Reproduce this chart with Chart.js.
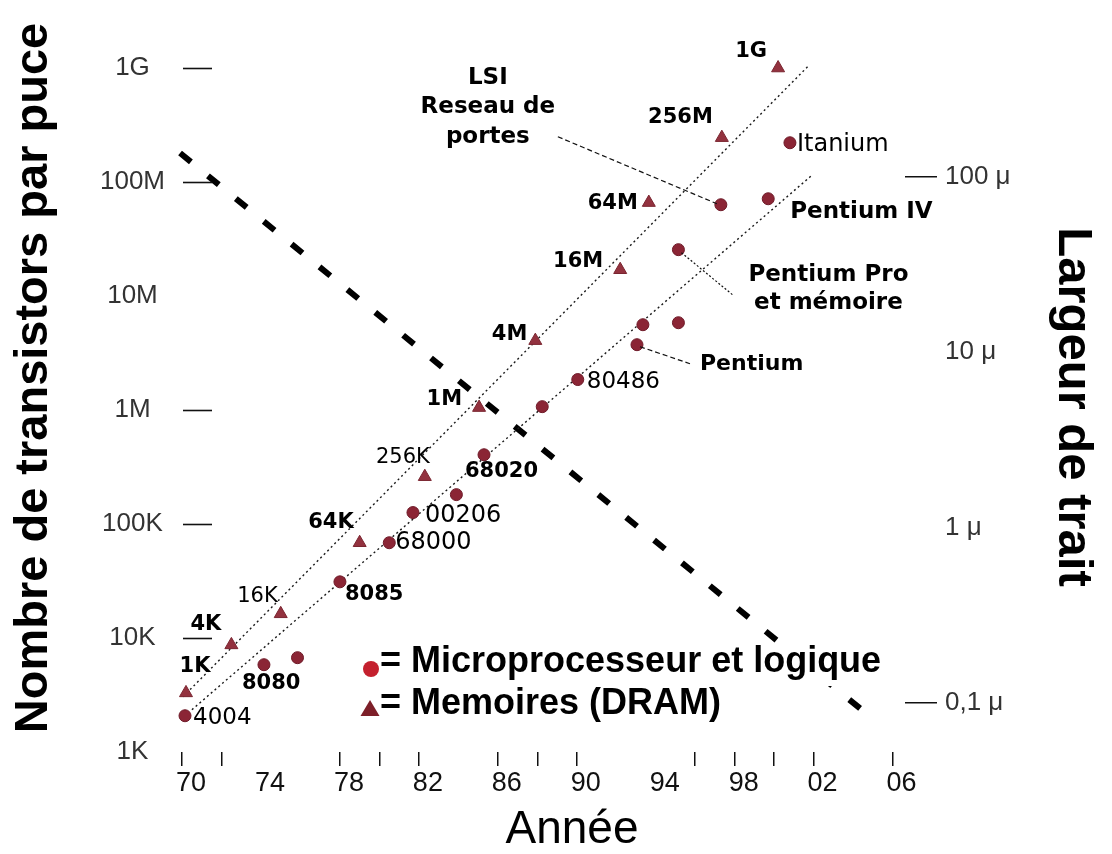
<!DOCTYPE html>
<html>
<head>
<meta charset="utf-8">
<script src="https://cdn.jsdelivr.net/npm/chart.js@4.4.1/dist/chart.umd.min.js"></script>
<style>
  html, body { margin: 0; padding: 0; background: #ffffff; }
  canvas { display: block; }
</style>
</head>
<body>
<canvas id="chart" width="1112" height="854"></canvas>
<script>
// ---------------- DATA ----------------
// Memories (DRAM): year, transistors per chip, label
const dramYears  = [1970.2, 1972.5, 1975.0, 1979.0, 1982.3, 1985.05, 1987.9, 1992.2, 1993.65, 1997.35, 2000.2];
const dramCounts = [3300, 8700, 16300, 68500, 260000, 1050000, 4060000, 17000000, 66000000, 245000000, 1000000000];
const dramLabels = ['1K', '4K', '16K', '64K', '256K', '1M', '4M', '16M', '64M', '256M', '1G'];

// Microprocessors and logic
const cpuYears  = [1970.15, 1974.15, 1975.85, 1978.0, 1980.5, 1981.7, 1983.9, 1985.3, 1988.25, 1990.05, 1993.05, 1993.35, 1995.15, 1995.15, 1997.3, 1999.7, 2000.8];
const cpuCounts = [2080, 5830, 6720, 31100, 68500, 126000, 181000, 405000, 1070000, 1850000, 3740000, 5600000, 5830000, 25500000, 63200000, 71300000, 221000000];
const cpuLabels = ['4004', '8080', '', '8085', '68000', '00206', '', '68020', '', '80486', 'Pentium', '', '', 'Pentium Pro\net mémoire', 'LSI\nReseau de\nportes', 'Pentium IV', 'Itanium'];

// Trend lines (transistors per chip)
const dramTrendYears  = [1970.05, 2001.8];
const dramTrendCounts = [3055, 1070000000];
const cpuTrendYears   = [1970.5, 2001.95];
const cpuTrendCounts  = [2350, 116000000];

// Feature size (line width, microns) - right axis
const featureYears   = [1969.9, 2004.7];
const featureMicrons = [137, 0.0865];

// Axis ticks
const yearTicks      = [1970, 1972, 1974, 1976, 1978, 1980, 1982, 1984, 1986, 1988, 1990, 1992, 1994, 1996, 1998, 2000, 2002, 2004, 2006];
const yearTickLabels = ['70', '', '74', '', '78', '', '82', '', '86', '', '90', '', '94', '', '98', '', '02', '', '06'];
const yearTickMarks  = [1970, 1972, 1978, 1980, 1982, 1986, 1988, 1990, 1996, 1998, 2000, 2002, 2006];

const countTicks      = [1e3, 1e4, 1e5, 1e6, 1e7, 1e8, 1e9];
const countTickLabels = ['1K', '10K', '100K', '1M', '10M', '100M', '1G'];
const countTickDashes = [1e4, 1e5, 1e6, 1e8, 1e9];

const micronTicks      = [0.1, 1, 10, 100];
const micronTickLabels = ['0,1 \u03bc', '1 \u03bc', '10 \u03bc', '100 \u03bc'];
const micronTickDashes = [0.1, 100];

const axisTitles = { x: 'Année', y: 'Nombre de transistors par puce', y2: 'Largeur de trait' };
const legendTexts = ['= Microprocesseur et logique', '= Memoires (DRAM)'];

// ---------------- STYLES ----------------
const SANS = '"Liberation Sans", Arial, Helvetica, sans-serif';
const DEJA = '"DejaVu Sans", "Liberation Sans", sans-serif';
const CPU_COLOR = '#8b2535';
const DRAM_COLOR = '#93323f';

// label placement relative to its point (pixels)
const labelStyle = {
  '1K':   { dx: 9,   dy: -26, align: 'center', bold: true },
  '4K':   { dx: -10, dy: -20, align: 'right', bold: true },
  '16K':  { dx: -3,  dy: -17, align: 'right', bold: false, size: 21 },
  '64K':  { dx: -6,  dy: -20, align: 'right', bold: true },
  '256K': { dx: 5,   dy: -19, align: 'right', bold: false, size: 21 },
  '1M':   { dx: -17, dy: -8,  align: 'right', bold: true },
  '4M':   { dx: -8,  dy: -6,  align: 'right', bold: true },
  '16M':  { dx: -17, dy: -8,  align: 'right', bold: true },
  '64M':  { dx: -11, dy: 1,   align: 'right', bold: true },
  '256M': { dx: -9,  dy: -20, align: 'right', bold: true },
  '1G':   { dx: -11, dy: -16, align: 'right', bold: true },
  '4004':  { dx: 8,   dy: 2,  align: 'left', bold: false },
  '8080':  { dx: -22, dy: 19, align: 'left', bold: true },
  '8085':  { dx: 5,   dy: 13, align: 'left', bold: true },
  '68000': { dx: 6,   dy: 0,  align: 'left', bold: false, size: 24 },
  '00206': { dx: 12,  dy: 3,  align: 'left', bold: false, size: 24 },
  '68020': { dx: -19, dy: 17, align: 'left', bold: true },
  '80486': { dx: 9,   dy: 2,  align: 'left', bold: false },
  'Pentium': { dx: 63, dy: 20, align: 'left', bold: true, size: 22, leader: [3, 2, 53, 19], dash: [5, 3] },
  'Pentium Pro\net mémoire': { dx: 150, dy: 25, align: 'center', bold: true, size: 23, gap: 28, leader: [3, 3, 54, 45], dash: [2, 2] },
  'LSI\nReseau de\nportes': { dx: -233, dy: -127, align: 'center', bold: true, size: 23, gap: 29.5, leader: [-163, -68, -4, -1], dash: [5, 3] },
  'Pentium IV': { dx: 22, dy: 13, align: 'left', bold: true, size: 23 },
  'Itanium': { dx: 7, dy: 2, align: 'left', bold: false, size: 24 }
};

const toXY = (xs, ys) => xs.map((v, i) => ({ x: v, y: ys[i] }));

// ---------------- PLUGIN (annotations, legend, titles) ----------------
const decorPlugin = {
  id: 'decor',
  afterDatasetsDraw(chart) {
    const { ctx, chartArea } = chart;
    const xs = chart.scales.x, ys = chart.scales.y;
    ctx.save();

    // short tick dashes of the left axis (inside the plot)
    ctx.strokeStyle = '#111';
    ctx.lineWidth = 1.6;
    countTickDashes.forEach(v => {
      const py = Math.round(ys.getPixelForValue(v)) + 0.5;
      ctx.beginPath();
      ctx.moveTo(chartArea.left + 13, py);
      ctx.lineTo(chartArea.left + 42, py);
      ctx.stroke();
    });

    // point labels + leader lines
    const drawLabels = (years, counts, labels) => {
      labels.forEach((lab, i) => {
        if (!lab) return;
        const st = labelStyle[lab];
        if (!st) return;
        const px = xs.getPixelForValue(years[i]);
        const py = ys.getPixelForValue(counts[i]);
        if (st.leader) {
          ctx.save();
          ctx.strokeStyle = '#111';
          ctx.lineWidth = 1.2;
          ctx.setLineDash(st.dash || [4, 3]);
          ctx.beginPath();
          ctx.moveTo(px + st.leader[0], py + st.leader[1]);
          ctx.lineTo(px + st.leader[2], py + st.leader[3]);
          ctx.stroke();
          ctx.restore();
        }
        const size = st.size || (st.bold ? 21 : 23);
        ctx.fillStyle = '#000';
        ctx.font = (st.bold ? 'bold ' : '') + size + 'px ' + DEJA;
        ctx.textAlign = st.align;
        ctx.textBaseline = 'middle';
        lab.split('\n').forEach((line, k) => {
          ctx.fillText(line, px + st.dx, py + st.dy + k * (st.gap || 0));
        });
      });
    };
    drawLabels(dramYears, dramCounts, dramLabels);
    drawLabels(cpuYears, cpuCounts, cpuLabels);

    // legend (white box hides the line behind it)
    ctx.font = 'bold 36px ' + SANS;
    ctx.textAlign = 'left';
    ctx.textBaseline = 'middle';
    const legX = 380, legY = [662, 704];
    legendTexts.forEach((t, k) => {
      const w = ctx.measureText(t).width;
      ctx.fillStyle = '#ffffff';
      ctx.fillRect(legX - 22, legY[k] - 18, w + 28, 42);
    });
    // markers
    ctx.fillStyle = '#c4202e';
    ctx.beginPath();
    ctx.arc(legX - 9, legY[0] + 7, 8, 0, Math.PI * 2);
    ctx.fill();
    ctx.fillStyle = '#7d1f29';
    ctx.beginPath();
    const tx = legX - 10, ty = legY[1] + 5;
    ctx.moveTo(tx, ty - 9);
    ctx.lineTo(tx + 9.5, ty + 7);
    ctx.lineTo(tx - 9.5, ty + 7);
    ctx.closePath();
    ctx.fill();
    ctx.fillStyle = '#000';
    legendTexts.forEach((t, k) => ctx.fillText(t, legX, legY[k]));

    // axis titles
    ctx.fillStyle = '#000';
    ctx.textAlign = 'center';
    ctx.textBaseline = 'alphabetic';
    ctx.font = '46px ' + SANS;
    ctx.fillText(axisTitles.x, 572, 843);

    ctx.save();
    ctx.translate(47, 378);
    ctx.rotate(-Math.PI / 2);
    ctx.font = 'bold 47px ' + SANS;
    ctx.fillText(axisTitles.y, 0, 0);
    ctx.restore();

    ctx.save();
    ctx.translate(1059, 407);
    ctx.rotate(Math.PI / 2);
    ctx.font = 'bold 49px ' + SANS;
    ctx.fillText(axisTitles.y2, 0, 0);
    ctx.restore();

    ctx.restore();
  }
};

// ---------------- CHART ----------------
Chart.defaults.font.family = SANS;
Chart.defaults.color = '#222';

new Chart(document.getElementById('chart').getContext('2d'), {
  type: 'scatter',
  data: {
    datasets: [
      {
        label: 'Microprocesseur et logique',
        data: toXY(cpuYears, cpuCounts),
        yAxisID: 'y',
        pointStyle: 'circle',
        pointRadius: 6,
        backgroundColor: CPU_COLOR,
        borderColor: '#6e1a28',
        borderWidth: 1,
        clip: false
      },
      {
        label: 'Memoires (DRAM)',
        data: toXY(dramYears, dramCounts),
        yAxisID: 'y',
        pointStyle: 'triangle',
        pointRadius: 7.5,
        backgroundColor: DRAM_COLOR,
        borderColor: '#7a2530',
        borderWidth: 1,
        clip: false
      },
      {
        label: 'Tendance DRAM',
        data: toXY(dramTrendYears, dramTrendCounts),
        yAxisID: 'y',
        showLine: true,
        pointRadius: 0,
        borderColor: '#1a1a1a',
        borderWidth: 1.4,
        borderDash: [2, 3],
        clip: false
      },
      {
        label: 'Tendance microprocesseurs',
        data: toXY(cpuTrendYears, cpuTrendCounts),
        yAxisID: 'y',
        showLine: true,
        pointRadius: 0,
        borderColor: '#1a1a1a',
        borderWidth: 1.4,
        borderDash: [2, 3],
        clip: false
      },
      {
        label: 'Largeur de trait',
        data: toXY(featureYears, featureMicrons),
        yAxisID: 'y2',
        showLine: true,
        pointRadius: 0,
        borderColor: '#000',
        borderWidth: 6,
        borderDash: [14, 22],
        borderCapStyle: 'butt',
        clip: false
      }
    ]
  },
  options: {
    responsive: false,
    animation: false,
    devicePixelRatio: 1,
    layout: { padding: { top: 40, left: 0, right: 0, bottom: 0 } },
    plugins: { legend: { display: false }, tooltip: { enabled: false } },
    scales: {
      x: {
        type: 'linear',
        min: 1969.39,
        max: 2006.63,
        afterBuildTicks: s => { s.ticks = yearTicks.map(v => ({ value: v })); },
        afterFit: s => { s.height = 102; },
        border: { display: false },
        grid: {
          drawOnChartArea: false,
          drawTicks: true,
          tickLength: 14,
          lineWidth: 1.5,
          color: c => (c.tick && yearTickMarks.includes(c.tick.value)) ? '#111' : 'rgba(0,0,0,0)'
        },
        ticks: {
          autoSkip: false,
          maxRotation: 0,
          minRotation: 0,
          padding: 1,
          labelOffset: 9,
          color: '#111',
          font: { size: 27 },
          callback: (v, i) => yearTickLabels[i]
        }
      },
      y: {
        type: 'logarithmic',
        position: 'left',
        min: 1000,
        max: 1.761e9,
        afterBuildTicks: s => { s.ticks = countTicks.map(v => ({ value: v })); },
        afterFit: s => { s.width = 170; },
        border: { display: false },
        grid: { display: false, drawTicks: false },
        ticks: {
          autoSkip: false,
          padding: 5,
          crossAlign: 'center',
          color: '#333',
          font: { size: 26 },
          callback: (v, i) => countTickLabels[i]
        }
      },
      y2: {
        type: 'logarithmic',
        position: 'right',
        min: 0.0525,
        max: 604.7,
        afterBuildTicks: s => { s.ticks = micronTicks.map(v => ({ value: v })); },
        afterFit: s => { s.width = 207; },
        border: { display: false },
        grid: {
          drawOnChartArea: false,
          drawTicks: true,
          tickLength: 32,
          lineWidth: 1.5,
          color: c => (c.tick && micronTickDashes.includes(c.tick.value)) ? '#111' : 'rgba(0,0,0,0)'
        },
        ticks: {
          autoSkip: false,
          padding: 8,
          crossAlign: 'near',
          color: '#333',
          font: { size: 26 },
          callback: (v, i) => micronTickLabels[i]
        }
      }
    }
  },
  plugins: [decorPlugin]
});
</script>
</body>
</html>
